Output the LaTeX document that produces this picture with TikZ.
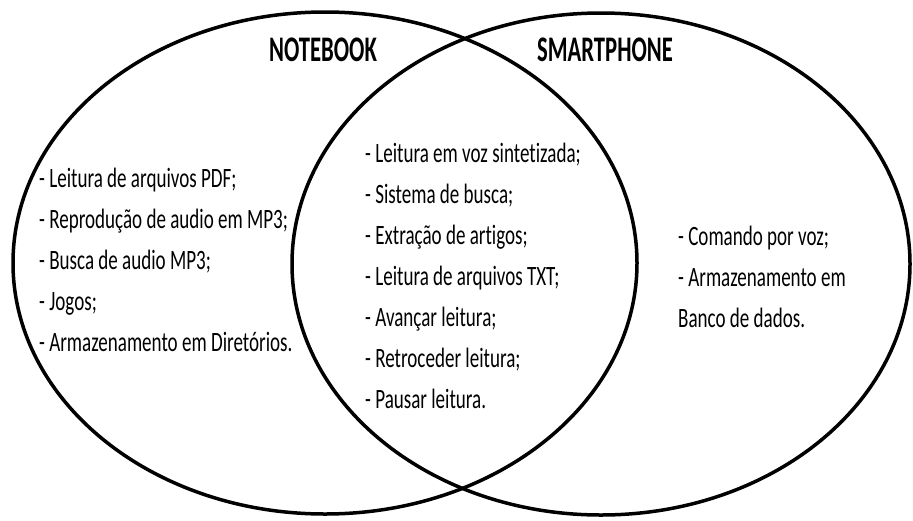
\documentclass[tikz,border=0pt]{standalone}
\usepackage{fontspec}
\setmainfont[Ligatures = NoCommon]{Carlito}
\usepackage{graphicx}
\newcommand{\squeezetext}[1]{\scalebox{0.68}[1]{#1}}
\newcommand{\itemlist}[1]{\squeezetext{\begin{tabular}[t]{@{}l@{}}#1\end{tabular}}}
\begin{document}
\begin{tikzpicture}[x = 1pt, y = -1pt,
		venn/.style = {line width = 3.5pt},
		title/.style = {inner sep = 0, font = \fontsize{36}{36}\selectfont\bfseries},
		items/.style = {inner sep = 0, anchor = base west, font = \fontsize{28}{41}\selectfont}]
		\useasboundingbox (0, 0) rectangle (913, 520);
		% sets
		\draw[venn] (325, 263) ellipse [x radius = 312pt, y radius = 251pt];
		\draw[venn] (601, 264) ellipse [x radius = 309pt, y radius = 251pt];
		% titles
		\node[title] (notebook) at (323, 50) {\scalebox{0.63}[1]{NOTEBOOK}};
		\node[title] (smartphone) at (605, 50) {\scalebox{0.63}[1]{SMARTPHONE}};
		% lists
		\node[items] (listnote) at (39, 187) {\itemlist{%
			- Leitura de arquivos PDF;\\
			- Reprodução de audio em MP3;\\
			- Busca de audio MP3;\\
			- Jogos;\\
			- Armazenamento em Diretórios.}};
		\node[items] (listboth) at (365, 162) {\itemlist{%
			- Leitura em voz sintetizada;\\
			- Sistema de busca;\\
			- Extração de artigos;\\
			- Leitura de arquivos TXT;\\
			- Avançar leitura;\\
			- Retroceder leitura;\\
			- Pausar leitura.}};
		\node[items] (listphone) at (678, 245) {\itemlist{%
			- Comando por voz;\\
			- Armazenamento em\\
			Banco de dados.}};
	\end{tikzpicture}
\end{document}
